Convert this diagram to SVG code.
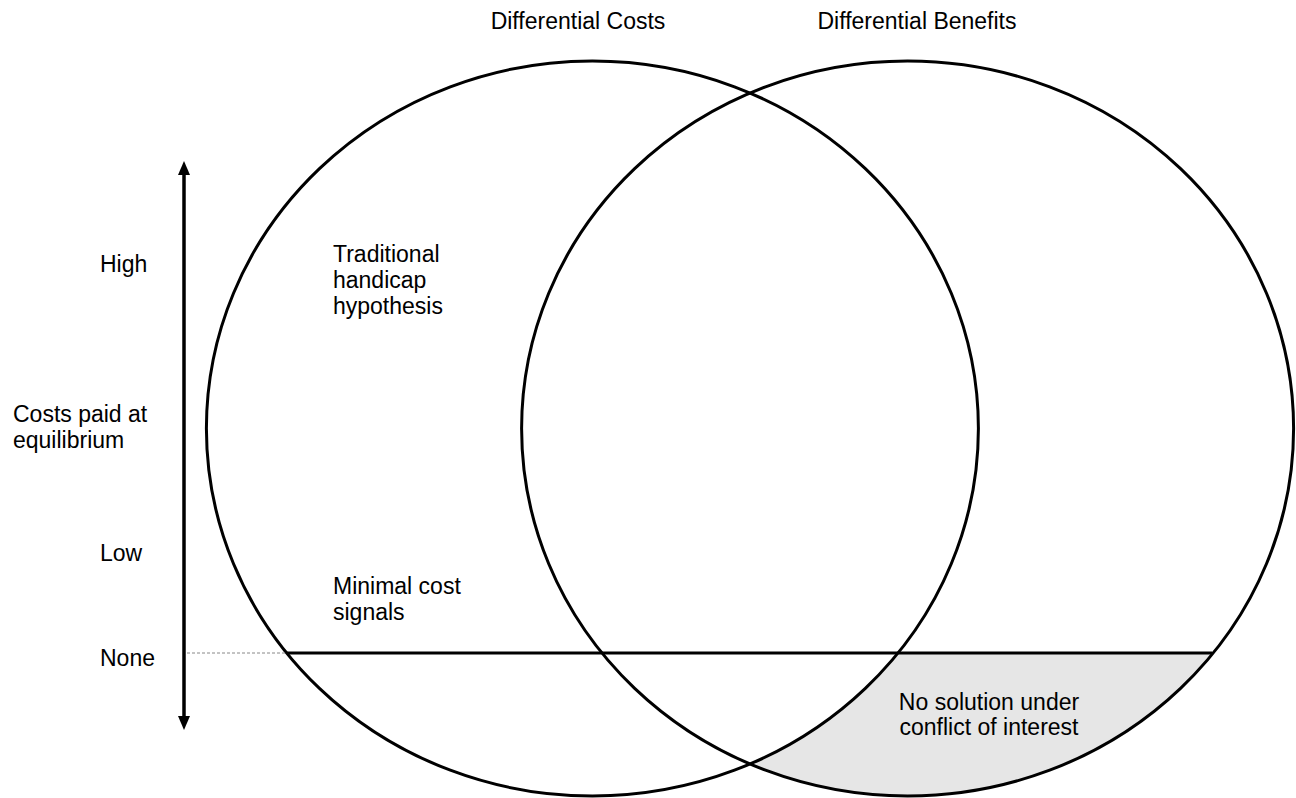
<svg xmlns="http://www.w3.org/2000/svg" width="1296" height="798" viewBox="0 0 1296 798">
<style>
text{font-family:"Liberation Sans",Arial,sans-serif;font-size:23px;fill:#000}
.c{fill:none;stroke:#000;stroke-width:3}
.m{text-anchor:middle}
</style>
<rect width="1296" height="798" fill="#fff"/>
<g id="region-no-solution">
<path d="M898,653 L1213.2,653 A386 367.5 0 0 1 750,764 A386 367.5 0 0 0 898,653 Z" fill="#e6e6e6"/>
</g>
<g id="circle-costs">
<ellipse class="c" cx="592.4" cy="428.5" rx="386" ry="367.5"/>
<text class="m" x="578" y="29">Differential Costs</text>
</g>
<g id="circle-benefits">
<ellipse class="c" cx="907.6" cy="428.5" rx="386" ry="367.5"/>
<text class="m" x="917" y="29">Differential Benefits</text>
</g>
<g id="connectors">
<line x1="287" y1="653" x2="1212" y2="653" stroke="#000" stroke-width="3"/>
<line x1="187" y1="653" x2="287" y2="653" stroke="#888" stroke-width="1" stroke-dasharray="3,2"/>
<line x1="184" y1="172" x2="184" y2="719" stroke="#000" stroke-width="3.5"/>
<polygon points="184,161 178,175 190,175" fill="#000"/>
<polygon points="184,730 178,716 190,716" fill="#000"/>
</g>
<g id="axis-labels">
<text x="100" y="272">High</text>
<text x="13" y="422">Costs paid at</text>
<text x="13" y="448">equilibrium</text>
<text x="100" y="561">Low</text>
<text x="100" y="666">None</text>
</g>
<g id="label-handicap">
<text x="333" y="262">Traditional</text>
<text x="333" y="288">handicap</text>
<text x="333" y="314">hypothesis</text>
</g>
<g id="label-minimal">
<text x="333" y="594">Minimal cost</text>
<text x="333" y="620">signals</text>
</g>
<g id="label-no-solution">
<text class="m" x="989" y="710">No solution under</text>
<text class="m" x="989" y="735">conflict of interest</text>
</g>
</svg>
